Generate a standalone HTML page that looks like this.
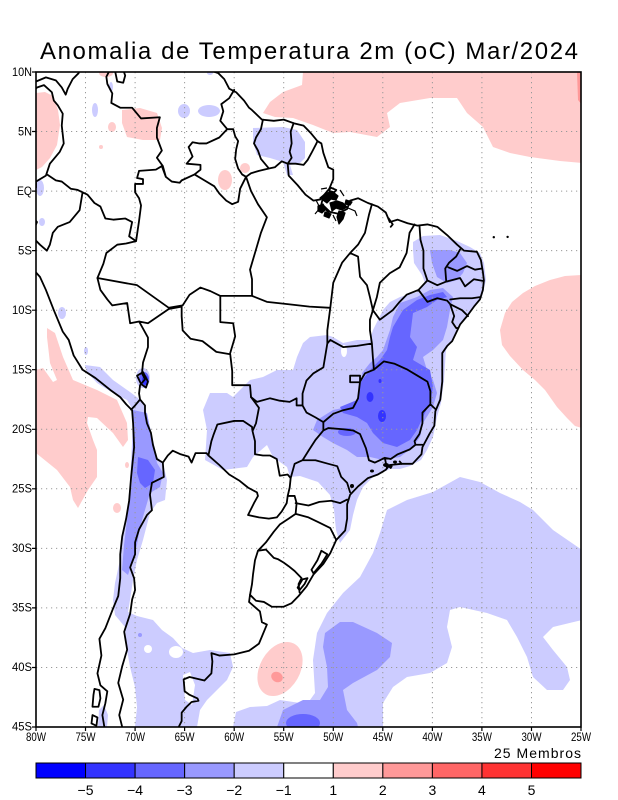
<!DOCTYPE html>
<html><head><meta charset="utf-8"><style>
html,body{margin:0;padding:0;background:#fff;}
svg{display:block;font-family:"Liberation Sans",sans-serif;}
.b path{vector-effect:non-scaling-stroke;}
</style></head><body>
<svg width="618" height="800" viewBox="0 0 618 800" xmlns="http://www.w3.org/2000/svg">
<rect width="618" height="800" fill="#fff"/>
<text x="40" y="59" font-size="24" textLength="538" lengthAdjust="spacing" fill="#000">Anomalia de Temperatura 2m (oC) Mar/2024</text>
<defs><clipPath id="c"><rect x="36" y="72" width="545" height="655"/></clipPath></defs>
<g clip-path="url(#c)">
<!-- pink -->
<g fill="#ffcccc">
<path d="M303,72 L582,72 582,163 560,161 530,157 510,153 493,147 483,127 467,113 457,98 430,98 400,103 387,113 390,127 377,137 350,132 333,133 313,125 293,118 275,117 263,113 270,102 283,92 302,85 Z"/>
<path d="M36,93 L45,92 53,96 58,110 60,125 57,145 50,158 42,167 36,170 Z"/>
<ellipse cx="106" cy="73" rx="7" ry="4"/>
<path d="M122,110 L140,108 157,113 162,128 160,140 143,140 127,137 122,123 Z"/>
<ellipse cx="112" cy="127" rx="4" ry="5"/>
<ellipse cx="101" cy="147" rx="2" ry="2"/>
<ellipse cx="225" cy="180" rx="7" ry="10"/>
<ellipse cx="245" cy="168" rx="5" ry="5"/>
<path d="M47,328 L55,333 63,357 73,380 97,390 117,400 127,423 128,440 123,447 113,433 97,418 88,417 87,423 93,440 97,450 97,477 88,490 78,508 73,500 70,487 57,470 36,453 36,370 43,368 53,382 57,380 50,363 47,337 Z"/>
<ellipse cx="117" cy="508" rx="4" ry="5"/>
<ellipse cx="127" cy="465" rx="2" ry="3"/>
<path d="M582,275 L565,276 550,280 535,286 523,293 512,302 505,313 500,330 502,345 510,356 523,370 535,380 545,390 557,407 567,418 575,426 582,428 Z"/>
<ellipse cx="280" cy="669" rx="20" ry="29" transform="rotate(30 280 669)"/>
</g>
<path d="M577,72 L582,72 582,105 578,100 Z" fill="#ff9999"/>
<ellipse cx="277" cy="677" rx="6" ry="5" fill="#ff9999" transform="rotate(30 277 677)"/>
<!-- light blue -->
<g fill="#ccccff">
<path d="M413,242 L423,236 440,235 457,241 470,247 480,253 484,263 486,280 482,297 472,310 463,320 455,335 446,350 444,380 441,403 437,417 433,437 427,450 421,460 410,466 400,469 390,469 373,477 363,487 357,500 353,515 350,530 340,543 336,530 334,510 330,495 318,482 300,476 290,477 287,467 273,457 267,445 253,457 247,467 223,470 205,460 207,430 203,410 210,393 227,393 233,397 250,380 263,377 277,370 293,370 297,357 303,343 310,337 327,335 333,337 343,343 357,340 370,340 373,330 378,320 383,310 390,302 400,297 417,292 425,283 422,275 414,263 413,250 Z"/>
<path d="M85,365 L100,367 113,380 130,392 138,398 145,407 150,427 157,457 163,463 167,480 165,500 157,503 150,513 143,540 137,560 133,580 130,600 128,612 137,616 153,620 162,630 173,638 182,648 193,653 210,650 230,653 233,667 227,680 217,690 207,700 200,710 197,727 135,727 137,707 135,687 130,667 127,650 125,627 115,615 113,600 115,583 120,560 123,533 127,513 130,483 132,443 133,410 127,400 113,393 97,383 87,372 Z"/>
<path d="M98,727 L99,710 104,705 108,715 107,727 Z"/>
<path d="M233,727 L236,712 250,707 267,706 280,700 300,703 310,700 315,693 313,660 317,633 327,613 343,593 360,577 373,553 380,533 387,510 407,500 433,492 460,477 480,482 500,493 520,502 533,510 553,530 582,550 582,620 553,627 543,637 553,650 567,667 570,680 563,690 547,690 533,677 527,657 517,637 507,620 487,613 460,607 450,610 447,627 452,647 447,663 430,673 407,677 393,687 383,703 383,727 Z"/>
<path d="M253,128 L283,127 297,130 305,142 305,158 300,163 290,165 293,175 287,175 283,162 270,158 257,155 253,142 Z"/>
<ellipse cx="184" cy="111" rx="6" ry="7"/>
<ellipse cx="209" cy="111" rx="11" ry="6"/>
<ellipse cx="95" cy="110" rx="3" ry="7"/>
<ellipse cx="40" cy="188" rx="4" ry="8"/>
<ellipse cx="42" cy="222" rx="3" ry="4"/>
<ellipse cx="210" cy="73" rx="3" ry="2"/>
<ellipse cx="111" cy="87" rx="2" ry="5"/>
<ellipse cx="62" cy="313" rx="4" ry="6"/>
<ellipse cx="86" cy="351" rx="2" ry="4"/>
<ellipse cx="143" cy="378" rx="7" ry="10"/>
</g>
<g fill="#fff">
<ellipse cx="148" cy="649" rx="4" ry="4"/>
<ellipse cx="176" cy="652" rx="7" ry="6"/>
<path d="M183,675 L190,672 195,685 192,705 185,700 Z"/>
<ellipse cx="344" cy="351" rx="3" ry="6"/>
</g>
<!-- medium blue -->
<g fill="#9999ff">
<path d="M400,303 L417,297 430,290 443,288 453,297 450,310 447,327 443,340 433,350 423,357 427,370 433,380 437,393 433,407 423,423 420,437 413,447 400,457 383,460 370,457 357,457 347,450 333,443 323,437 313,430 317,420 333,410 347,407 357,403 360,397 362,373 370,363 377,357 383,350 390,330 393,317 Z"/>
<path d="M430,250 L450,250 460,253 467,263 463,273 457,280 447,283 437,277 432,263 Z"/>
<path d="M133,410 L147,413 157,463 163,473 160,487 150,493 145,510 140,527 137,545 133,560 128,575 122,570 124,545 127,520 132,483 133,433 Z"/>
<path d="M325,633 L340,622 353,622 377,633 392,643 390,657 377,670 353,683 343,690 347,710 357,723 358,727 277,727 283,710 303,700 320,700 328,687 327,667 323,647 Z"/>
<ellipse cx="140" cy="635" rx="2" ry="2"/>
</g>
<!-- dark blue -->
<g fill="#6666ff">
<path d="M393,327 L403,310 417,300 430,295 443,292 447,297 437,300 427,307 413,313 410,337 417,347 413,360 430,370 433,387 430,403 423,417 417,430 410,440 397,447 383,443 373,433 367,423 357,417 343,413 340,407 357,400 360,383 370,370 380,360 387,350 390,337 Z"/>
<path d="M138,457 L148,460 155,470 153,483 145,488 140,483 137,473 Z"/>
<ellipse cx="303" cy="723" rx="17" ry="9"/>
<ellipse cx="347" cy="432" rx="9" ry="4"/>
<ellipse cx="144" cy="379" rx="5" ry="7"/>
</g>
<g fill="#3333ff">
<ellipse cx="370" cy="397" rx="3.5" ry="5"/>
<ellipse cx="382" cy="416" rx="4" ry="6"/>
<ellipse cx="380" cy="381" rx="1.5" ry="2"/>
<ellipse cx="145" cy="380" rx="3" ry="5"/>
</g>
<!-- grid -->
<g stroke="#9a9a9a" stroke-width="1" stroke-dasharray="1.2 3.8" fill="none">
<path d="M85.5,72V727M135.1,72V727M184.6,72V727M234.2,72V727M283.7,72V727M333.3,72V727M382.8,72V727M432.4,72V727M481.9,72V727M531.5,72V727"/>
<path d="M36,131.5H581M36,191.1H581M36,250.6H581M36,310.2H581M36,369.7H581M36,429.3H581M36,488.8H581M36,548.4H581M36,607.9H581M36,667.5H581"/>
</g>
<!-- borders (lon,lat) -->
<g class="b" transform="matrix(9.909 0 0 -11.909 828.72 191.09)" fill="none" stroke="#000" stroke-width="1.8" stroke-linejoin="round" stroke-linecap="round">
<path d="M-81 9.3 L-80 9.2 -79 9.55 -78 9.3 -77.4 8.7 -77 8.1 -76.8 8.6 -76.3 9.4 -75.7 9.9 -75.3 10.8 -74.2 11.2 -72 12.4 -71.2 11.8 -71.6 11 -71.6 10.5 -72 10 -71.8 9.2 -71.2 9.1 -71 9.7 -71.4 10.7 -70.2 11.6 -68 10.6 -66 10.6 -64 10.6 -62.5 10.7 -62 10.4 -62.3 10.1 -61.6 9.9 -61 9.4 -60.5 8.6 -59.8 8.3 -59 7.6 -58.5 7 -58.2 6.8 -57.2 6 -56 5.9 -55 6 -54 5.7 -53 5.5 -52.3 4.9 -51.6 4.2 -51.2 4 -51 3.2 -50.5 2 -50 1.8 -50 1 -50.4 0.2 -51 -0.4 -51.2 -1.1 -50.6 -1.7 -49.5 -1.9 -48.6 -1.5 -48.3 -0.8 -47.5 -0.6 -46.5 -1 -45.5 -1.3 -44.7 -1.8 -44.3 -2.6 -43.5 -2.4 -42.5 -2.7 -41.5 -2.9 -40.5 -2.8 -39.5 -3 -38.5 -3.7 -37.5 -4.5 -36.8 -5 -35.5 -5.1 -35.1 -5.8 -34.9 -6.8 -34.8 -7.5 -34.9 -8.3 -35.2 -9.1 -35.8 -9.7 -36.5 -10.5 -37.2 -11.2 -38 -12.6 -38.5 -13 -39 -13.6 -39 -14.8 -39 -16 -39.2 -17.5 -39.7 -18.5 -39.8 -19.7 -40.3 -20.4 -41 -21.5 -41.1 -22.1 -42 -22.9 -43.1 -22.9 -44.3 -23 -44.7 -23.4 -45.5 -23.8 -46.5 -24.1 -47.5 -24.8 -48.3 -25.5 -48.6 -26.3 -48.6 -27.5 -48.8 -28.5 -49.7 -29.3 -50.3 -30.4 -51 -31.3 -52 -32.2 -52.7 -33.2 -53.5 -34 -54.2 -34.6 -55 -34.9 -56.2 -34.9 -57 -34.5 -57.8 -34.4 -58.4 -33.9 -58.5 -34.5 -57.4 -35.3 -57.2 -36.2 -56.7 -36.4 -57.5 -38 -58.5 -38.6 -60 -38.9 -61.5 -39 -62.3 -38.8 -62.2 -39.5 -62.3 -40.5 -63 -41.1 -64.5 -40.8 -65.1 -41 -65 -42 -64.5 -42.3 -63.7 -42.6 -63.6 -42.8 -64.3 -42.9 -64.8 -43.3 -65.3 -43.8 -65.3 -44.5 -65.6 -45 -66.5 -46"/>
<path d="M-75 -47 L-74 -45.5 -73.1 -45 -73.3 -44 -73 -43 -72.8 -42 -73.5 -41.5 -73.8 -40.5 -73.4 -39 -73.6 -37.6 -73 -36.7 -72.2 -35 -71.7 -34 -71.5 -32.5 -71.5 -30.5 -71.3 -29 -70.9 -27.5 -70.6 -26 -70.4 -24 -70.1 -21.5 -70.2 -19.5 -70.3 -18.4 -70.9 -17.9 -71.5 -17.3 -72.5 -16.7 -74 -15.7 -75.3 -15 -76.2 -13.8 -76.7 -12.5 -77.3 -11.8 -78.2 -10 -79 -8.3 -79.6 -7.2 -80.7 -6.2 -81.2 -5.5 -81.3 -4.3 -80.3 -3.4 -79.9 -2.6 -80.3 -2.2 -80.9 -2.2 -80.8 -1 -80 0.3 -80 0.8 -79 1.3 -78.6 2.3 -77.6 3.3 -77.2 4 -77.4 5.5 -77.3 6.5 -77.8 7.2 -78.2 7.6 -78.4 8.3 -79.2 8.9 -79.9 8.7 -80.5 8.2 -81 8"/>
<path d="M-74.1 -41.8 L-73.6 -41.9 -73.5 -42.6 -73.7 -43.3 -74.3 -43.3 -74.2 -42.3 Z M-74.3 -44 L-73.8 -44.2 -73.9 -44.9 -74.4 -44.7 Z M-50.3 0.3 L-49.7 0.1 -49.9 -0.1 -50.4 0 Z M-51.5 -1.4 L-50.9 -1.3 -50.4 -1.7 M-49.3 -1.8 L-49.4 -2.6 M-44.4 -2.3 L-44 -2.8 -44.2 -3 M-61.9 10.1 L-61 10.1 -60.9 10.6 -61.8 10.7 Z M-51.2 -30.2 L-50.6 -30.5 -51.2 -31.3 -52 -32.1 -52.2 -31.8 -51.6 -31 Z M-52.6 -32.5 L-53.1 -32.6 -53.6 -33.3 -53.4 -33.5 -52.9 -33 Z M-69.8 -15.5 L-69.2 -15.2 -68.7 -16 -68.9 -16.5 -69.4 -16.2 Z M-44.4 -23.1 L-44.1 -23.1 -44.2 -23.25 Z M-43.3 -22.7 L-43.1 -22.9"/>
<!-- countries -->
<path d="M-72.9 11 L-72.4 10.4 -72.9 9.6 -72.8 9 -72.3 8.2 -72.4 7.4 -71.5 7 -70.3 7 -69.4 6.1 -67.5 6.2 -67.8 5.3 -67.8 4.5 -67.3 3.4 -67.8 2.8 -67.2 2.1 -66.9 1.2
M-60 8.5 L-60.5 7.8 -61.3 7.3 -61.1 6.7 -61.4 5.9 -60.7 5.2
M-60.7 5.2 L-61.5 4.5 -62.8 4 -63.5 4 -64.2 4.1 -64.6 3.7 -64.2 2.9 -64.8 2.3 -63.4 2.2 -63.4 1.8 -64 1.4 -65.3 0.9 -65.5 0.7 -66.3 0.8 -66.9 1.2
M-66.9 1.2 L-67.3 2.1 -67.9 1.8 -69.6 1.7 -69.8 1.1 -69.2 1 -69.2 0.6 -70 0.6 -70 -0.1 -69.6 -0.6 -69.4 -1.2 -69.6 -2.5 -69.9 -4.2
M-78.9 1.4 L-78 0.9 -77.4 0.8 -76.5 0.2 -75.8 0.1 -75.3 -0.1
M-75.3 -0.1 L-74.8 -0.3 -74.1 -1 -73.5 -1.3 -73 -2.3 -72.2 -2.4 -71 -2.3 -70.3 -2.6 -70.6 -3.8 -69.9 -4.2
M-80.3 -3.4 L-80.2 -4 -79.6 -4.5 -78.9 -5 -78.6 -4.5 -78.3 -3.5 -77.8 -3 -76.6 -2.6 -75.6 -1.6 -75.3 -0.1
M-69.9 -4.2 L-70.9 -4.4 -71.8 -4.5 -72.9 -5.2 -73.2 -6.1 -73.8 -7.3 -73.5 -8.3 -72.8 -9.1 -72.3 -9.6 -70.8 -9.4 -70.5 -11.1 -69.6 -10.95
M-69.6 -10.95 L-68.7 -12.3 -68.7 -13.1 -69.2 -14.4 -69.3 -15.3 -69 -15.8 -69.5 -16.3 -69.6 -17 -69.5 -17.5
M-69.5 -17.5 L-70 -18 -70.4 -18.35
M-69.5 -17.5 L-69 -18 -69 -18.6 -68.8 -19.5 -68.4 -20.3 -68.2 -21.3 -67.8 -22.5 -67.2 -22.8
M-67.2 -22.8 L-66.7 -22.2 -66.2 -21.8 -65.4 -22.1 -64.6 -22.3 -64.3 -22.8 -63.9 -22 -62.8 -22 -62.6 -22.2
M-62.6 -22.2 L-62.3 -21 -62.1 -20.5 -61.7 -19.6 -60 -19.3 -59.1 -19.3 -58.2 -19.8 -58.15 -20.15
M-58.15 -20.15 L-57.8 -19.5 -57.5 -18.2 -58.3 -17.3 -58.4 -16.3 -60.2 -16.3 -60.2 -15.1 -60.4 -13.7 -61.8 -13.5 -63.2 -12.6 -64.4 -12.4 -65.2 -11.7 -65.3 -10.5 -65.3 -9.7 -66.6 -9.9 -68 -10.7 -68.7 -11.1 -69.6 -10.95
M-67.2 -22.8 L-67.1 -24 -68.3 -24.5 -68.5 -25.5 -68.3 -26.8 -68.8 -27.2 -69.6 -28.4 -70 -29.5 -70 -30.5 -70.5 -31.6 -70.1 -32.5 -70 -33.5 -70.3 -34.3 -70.5 -35.5 -71.1 -37 -70.8 -38.5 -71.3 -39.9 -71.7 -41.3 -71.2 -42.7 -71.6 -44 -71.3 -45 -71.6 -46
M-62.6 -22.2 L-61.5 -23 -60.5 -23.8 -59.5 -24.3 -58.6 -24.9 -57.7 -25.3 -57.6 -25.6 -58 -26.2 -58.6 -27.2 -57.5 -27.4 -56.5 -27.5 -55.7 -27.4 -55.2 -26.9 -54.7 -26.2 -54.6 -25.6
M-54.6 -25.6 L-54.4 -24.9 -54.3 -24.1 -54.6 -23.8 -55.4 -23.9 -55.6 -23 -55.7 -22.5 -56.4 -22.2 -57.1 -22.2 -57.9 -22.1 -57.9 -21 -58.15 -20.15
M-54.6 -25.6 L-53.9 -25.6 -53.7 -26.2 -53.8 -27.1 -54.5 -27.5 -55.4 -28 -56 -28.6 -56.8 -29.5 -57.6 -30.2
M-57.6 -30.2 L-57.9 -31 -58.1 -32.2 -58.2 -33 -58.4 -33.9
M-57.6 -30.2 L-56.8 -30.1 -56 -30.8 -55.6 -30.9 -55 -31.2 -54.5 -31.5 -53.9 -31.9 -53.2 -32.5 -53.5 -33 -53.4 -33.7
M-60.7 5.2 L-60.1 5.2 -59.9 4.6 -59.6 4.2 -59.8 3.5 -59.9 2.7 -59.6 1.9 -59.2 1.4 -58.8 1.2 -58.3 1.5 -57.5 1.7 -56.5 1.9
M-57.1 6 L-57.3 5.2 -57.8 4.5 -58 4 -57.6 3.4 -57.3 2.7 -56.5 1.9
M-56.5 1.9 L-55.9 2 -55.2 2.5 -54.6 2.3
M-54 5.7 L-54.3 5 -54.2 4 -54.4 3.3 -54.2 2.8 -54.6 2.3
M-54.6 2.3 L-53.8 2.3 -53 2.2 -52.6 2.6 -52.2 3.2 -51.7 4 -51.6 4.2"/>
<!-- Brazilian states -->
<path d="M-64 1.4 L-63 0.9 -62 0.4 -61.5 -0.2 -60.8 -0.8 -60.2 -1.1 -59.6 -0.9 -59.4 0.2 -58.8 1.2
M-58.8 1.2 L-58.3 0 -57.6 -1.1 -56.7 -2.2 -57.3 -3.5 -58.4 -6.6 -58.2 -7.4 -58.2 -8.8
M-54.6 2.3 L-54.5 1.3 -53.6 0.5 -52.8 -0.3 -52 -0.8 -51.3 -0.7
M-58.2 -8.8 L-56.7 -9.3 -54.5 -9.5 -52.4 -9.7 -50.3 -9.8
M-61.4 -8.8 L-58.2 -8.8
M-66.6 -9.8 L-65.2 -9.6 -64.5 -8.7 -63.4 -8.1 -62.4 -8.4 -61.4 -8.8
M-73.8 -7.3 L-69.8 -7.9 -66.6 -9.8
M-61.4 -8.8 L-61.4 -11 -60.1 -11.1 -59.9 -12.2 -60.4 -13.6
M-58.3 -17.3 L-57.7 -17.7 -56.4 -17.4 -55.4 -17.6 -54.4 -17.7 -53.7 -17.4 -53.7 -18 -53.1 -18
M-53.1 -18 L-52.7 -18.6 -51.8 -19 -51 -19.4
M-53.1 -18 L-53.1 -17 -52.7 -15.9 -52 -15.3 -51 -14.8 -50.6 -12.8 -50.6 -11.7 -50.3 -9.8
M-50.3 -9.8 L-50 -7.7 -49.1 -6 -48.3 -5.2
M-48.3 -5.2 L-47.5 -5.5 -47.3 -7.2 -46.6 -7.9 -46.3 -8.9 -46 -10 -46.3 -10.8 -46.3 -11.7 -46.1 -12.8
M-46.1 -12.8 L-47.6 -13 -49 -13.1 -50.3 -12.5 -50.6 -12.8
M-46.1 -1.1 L-46.4 -2 -46.8 -3.5 -47.5 -4.5 -48.3 -5.2
M-41.8 -2.8 L-42.3 -3.5 -42.6 -5.2 -43.3 -6.4 -44.3 -6.9 -45.3 -7.7 -45.6 -8.9 -46 -10
M-46 -10 L-45.3 -10.8 -44 -10 -43.3 -9.3 -42.6 -8.7 -41.4 -8.3 -40.5 -7.5
M-40.5 -7.5 L-40.9 -6.5 -40.9 -5 -41.2 -4.1 -41.3 -2.9
M-40.5 -7.5 L-39.5 -7.9 -38.6 -7.6
M-38.6 -7.6 L-38.7 -6.5 -38.3 -6 -37.6 -5.5 -37.2 -4.9
M-38.4 -6.4 L-37.5 -6.7 -36.5 -6.3 -35.7 -6.6 -35 -6.5
M-38.6 -7.6 L-37.2 -7.3 -36.7 -8 -35.8 -7.4 -34.85 -7.55
M-41.4 -8.3 L-40.5 -9.3 -39.5 -9 -38.5 -9.2 -38.2 -9.5
M-38.2 -9.1 L-37.2 -9 -36 -9 -35.2 -8.9
M-38.2 -9.5 L-37 -10 -36.4 -10.5
M-38.2 -9.5 L-37.8 -10.5 -38 -11 -37.6 -11.5 -37.4 -11.5
M-46.1 -12.8 L-46 -14 -45.9 -15
M-45.9 -15 L-44.9 -14.3 -43.8 -14.5 -42.5 -15 -41.5 -15.5 -40.5 -16 -40.2 -16.8 -40.2 -17.9 -39.7 -18.3
M-40.2 -17.9 L-41 -18.6 -41 -19.5 -41.3 -20.4 -41.8 -21 -41.7 -21.3 -41 -21.3
M-41.7 -21.3 L-42.3 -21.7 -43.5 -22.1 -44.2 -22.5 -44.8 -22.4 -44.6 -23.2
M-44.8 -22.4 L-45.8 -22.8 -46.4 -22.6 -46.7 -21.6 -47.3 -20.4 -48 -20.1 -49 -20 -50.5 -19.9 -51 -20.1 -51 -19.4
M-51 -19.4 L-50 -18.7 -49 -18.4 -48 -18.2 -47.5 -17.4 -47.3 -16 -46.8 -15.3 -45.9 -15
M-51 -20.1 L-51.8 -20.9 -52.5 -21.8 -53.1 -22.6 -53.9 -22.9 -54.3 -24.1
M-53.1 -22.6 L-51.8 -22.6 -50.5 -22.9 -49.6 -23.1 -49.2 -24 -48.6 -24.5 -48.3 -25.3
M-53.8 -26.2 L-52.5 -26.4 -51.4 -26.1 -50.2 -26 -49.3 -26.2 -48.6 -25.9
M-53.8 -27.1 L-52.5 -27.4 -51.5 -27.8 -50.3 -28.3 -49.7 -29.3
M-48.3 -15.5 L-47.3 -15.5 -47.3 -16.05 -48.3 -16.05 Z"/>
</g>
<!-- Amazon delta island cluster -->
<g fill="#000" stroke="#000" stroke-width="1.2" stroke-linejoin="round">
<path d="M320,198 L326,193 333,192 338,196 336,200 331,199 327,203 Z"/>
<path d="M330,203 L337,201 343,203 347,207 342,210 336,208 332,211 Z"/>
<path d="M318,206 L323,204 326,209 322,213 318,211 Z"/>
<path d="M339,211 L345,213 343,219 339,224 337,217 Z"/>
<path d="M346,200 L352,202 350,205 345,204 Z"/>
<path d="M325,212 L331,214 329,218 324,216 Z"/>
</g>
<g fill="none" stroke="#000" stroke-width="1.2">
<path d="M316,200 L320,208 315,214 M348,208 L355,211 357,216 M333,215 L336,221 M321,189 L327,188 M340,190 L344,196"/>
</g>
<!-- SP/RJ coastal clutter -->
<g fill="#000">
<ellipse cx="386" cy="465" rx="3" ry="2"/>
<ellipse cx="395" cy="462" rx="2" ry="1.5"/>
<ellipse cx="372" cy="471" rx="2" ry="1.5"/>
<ellipse cx="352" cy="486" rx="2" ry="2"/>
</g>
<circle cx="493.8" cy="237.2" r="1.2" fill="#000"/>
<circle cx="507.6" cy="236.9" r="1.2" fill="#000"/>
</g>
<!-- frame -->
<rect x="36" y="72" width="545" height="655" fill="none" stroke="#000" stroke-width="1.6"/>
<g stroke="#000" stroke-width="1.2">
<path d="M32,72H36M32,131.5H36M32,191.1H36M32,250.6H36M32,310.2H36M32,369.7H36M32,429.3H36M32,488.8H36M32,548.4H36M32,607.9H36M32,667.5H36M32,727H36"/>
<path d="M36,727V731M85.5,727V731M135.1,727V731M184.6,727V731M234.2,727V731M283.7,727V731M333.3,727V731M382.8,727V731M432.4,727V731M481.9,727V731M531.5,727V731M581,727V731"/>
</g>
<g font-size="12" fill="#000" text-anchor="end">
<text x="32" y="76" textLength="20" lengthAdjust="spacingAndGlyphs">10N</text>
<text x="32" y="135.5" textLength="14" lengthAdjust="spacingAndGlyphs">5N</text>
<text x="32" y="195" textLength="15" lengthAdjust="spacingAndGlyphs">EQ</text>
<text x="32" y="254.5" textLength="14" lengthAdjust="spacingAndGlyphs">5S</text>
<text x="32" y="314" textLength="20" lengthAdjust="spacingAndGlyphs">10S</text>
<text x="32" y="373.5" textLength="20" lengthAdjust="spacingAndGlyphs">15S</text>
<text x="32" y="433" textLength="20" lengthAdjust="spacingAndGlyphs">20S</text>
<text x="32" y="492.5" textLength="20" lengthAdjust="spacingAndGlyphs">25S</text>
<text x="32" y="552" textLength="20" lengthAdjust="spacingAndGlyphs">30S</text>
<text x="32" y="611.5" textLength="20" lengthAdjust="spacingAndGlyphs">35S</text>
<text x="32" y="671" textLength="20" lengthAdjust="spacingAndGlyphs">40S</text>
<text x="32" y="730.5" textLength="20" lengthAdjust="spacingAndGlyphs">45S</text>
</g>
<g font-size="12" fill="#000">
<text x="26" y="741" textLength="20" lengthAdjust="spacingAndGlyphs">80W</text>
<text x="75.5" y="741" textLength="20" lengthAdjust="spacingAndGlyphs">75W</text>
<text x="125.1" y="741" textLength="20" lengthAdjust="spacingAndGlyphs">70W</text>
<text x="174.6" y="741" textLength="20" lengthAdjust="spacingAndGlyphs">65W</text>
<text x="224.2" y="741" textLength="20" lengthAdjust="spacingAndGlyphs">60W</text>
<text x="273.7" y="741" textLength="20" lengthAdjust="spacingAndGlyphs">55W</text>
<text x="323.3" y="741" textLength="20" lengthAdjust="spacingAndGlyphs">50W</text>
<text x="372.8" y="741" textLength="20" lengthAdjust="spacingAndGlyphs">45W</text>
<text x="422.4" y="741" textLength="20" lengthAdjust="spacingAndGlyphs">40W</text>
<text x="471.9" y="741" textLength="20" lengthAdjust="spacingAndGlyphs">35W</text>
<text x="521.5" y="741" textLength="20" lengthAdjust="spacingAndGlyphs">30W</text>
<text x="571" y="741" textLength="20" lengthAdjust="spacingAndGlyphs">25W</text>
</g>
<text x="581" y="758" font-size="14" text-anchor="end" fill="#000" textLength="87" lengthAdjust="spacing">25 Membros</text>
<!-- colorbar -->
<g stroke="#000" stroke-width="1">
<rect x="36" y="763" width="49.55" height="15" fill="#0000ff"/>
<rect x="85.55" y="763" width="49.55" height="15" fill="#3333ff"/>
<rect x="135.1" y="763" width="49.55" height="15" fill="#6666ff"/>
<rect x="184.65" y="763" width="49.55" height="15" fill="#9999ff"/>
<rect x="234.2" y="763" width="49.55" height="15" fill="#ccccff"/>
<rect x="283.75" y="763" width="49.55" height="15" fill="#ffffff"/>
<rect x="333.3" y="763" width="49.55" height="15" fill="#ffcccc"/>
<rect x="382.85" y="763" width="49.55" height="15" fill="#ff9999"/>
<rect x="432.4" y="763" width="49.55" height="15" fill="#ff6666"/>
<rect x="481.95" y="763" width="49.55" height="15" fill="#ff3333"/>
<rect x="531.5" y="763" width="49.5" height="15" fill="#ff0000"/>
</g>
<g font-size="14" fill="#000" text-anchor="middle">
<text x="85.5" y="795">−5</text>
<text x="135.1" y="795">−4</text>
<text x="184.6" y="795">−3</text>
<text x="234.2" y="795">−2</text>
<text x="283.7" y="795">−1</text>
<text x="333.3" y="795">1</text>
<text x="382.8" y="795">2</text>
<text x="432.4" y="795">3</text>
<text x="481.9" y="795">4</text>
<text x="531.5" y="795">5</text>
</g>
</svg>
</body></html>
